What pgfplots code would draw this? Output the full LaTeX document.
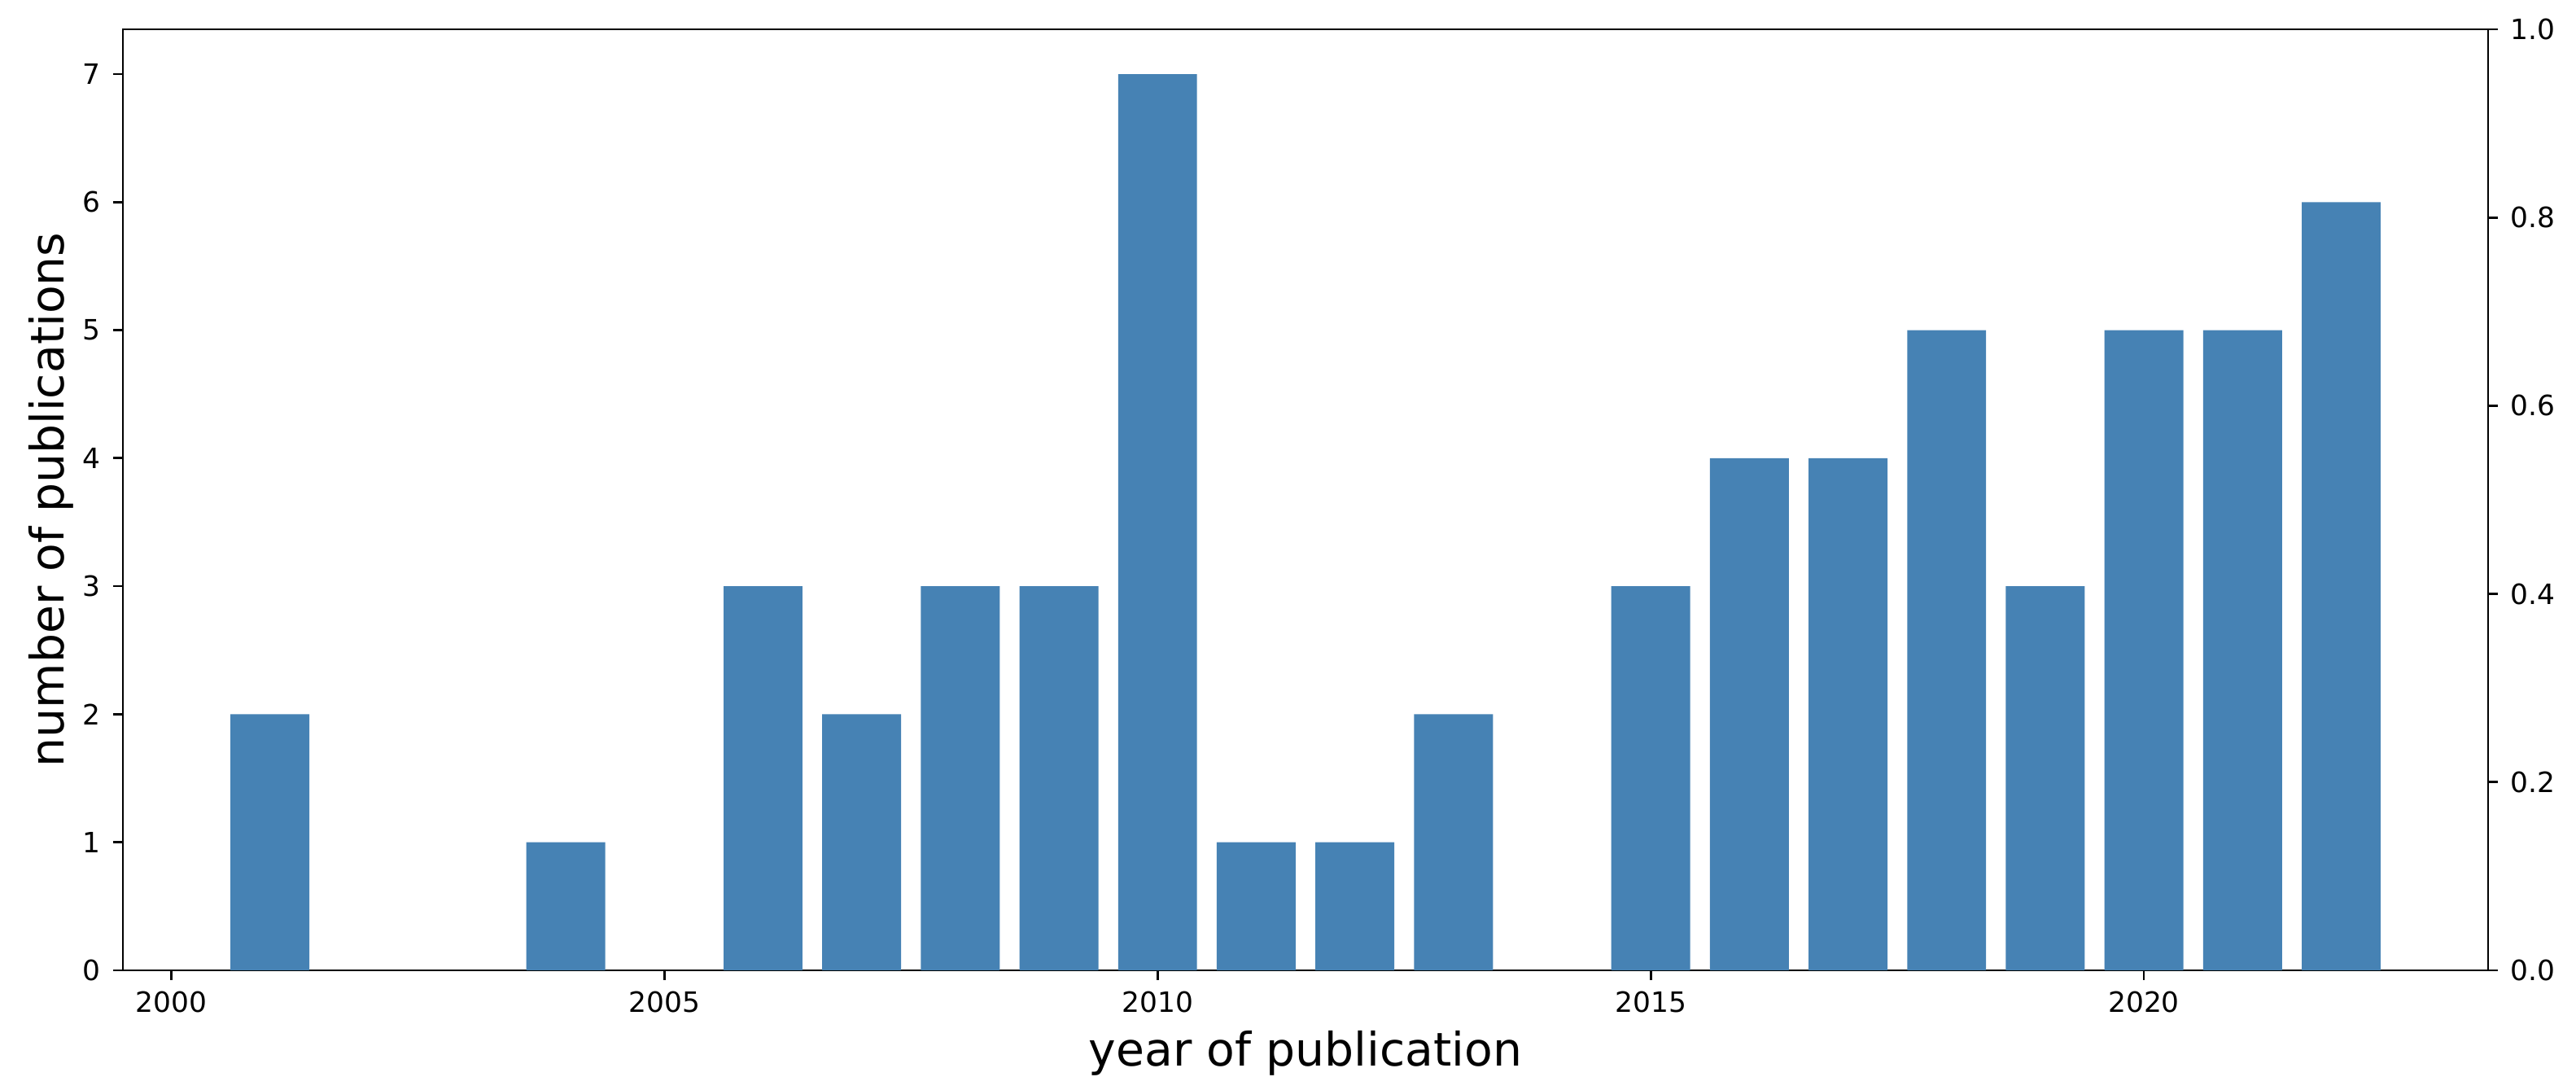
\documentclass[border=0pt]{standalone}
\usepackage{pgfplots}
\pgfplotsset{compat=1.18}
\usepackage{fontspec}
\setmainfont{DejaVu Sans}
\definecolor{steelblue}{RGB}{70,130,180}
\begin{document}
\begin{tikzpicture}
\pgfplotsset{
  every axis/.append style={
    scale only axis,
    width=726.5pt, height=289pt,
    line width=0.68pt,
    tick align=outside,
    major tick length=3pt,
    tick style={line width=0.68pt, black},
    /pgf/number format/assume math mode=true,
    tick label style={font=\fontsize{8.6}{10}\selectfont, inner sep=0pt},
  }
}
\begin{axis}[
  name=main,
  xmin=1999.51, xmax=2023.49,
  ymin=0, ymax=7.35,
  xtick={2000,2005,2010,2015,2020},
  ytick={0,1,2,3,4,5,6,7},
  xtick pos=lower, ytick pos=left,
  x tick label style={/pgf/number format/1000 sep={}, yshift=-3.25pt},
  y tick label style={xshift=-3.5pt},
  xlabel={year of publication},
  ylabel={number of publications},
  label style={font=\fontsize{14.2}{16}\selectfont, inner sep=0pt},
  xlabel style={at={(axis description cs:0.5,0)}, anchor=north, yshift=-18.25pt},
  ylabel style={at={(axis description cs:0,0.5)}, rotate=0, anchor=south, yshift=14.75pt},
  ybar, bar width=0.8,
]
\addplot[fill=steelblue, draw=none] coordinates {
(2001,2) (2004,1) (2006,3) (2007,2) (2008,3) (2009,3) (2010,7) (2011,1)
(2012,1) (2013,2) (2015,3) (2016,4) (2017,4) (2018,5) (2019,3) (2020,5)
(2021,5) (2022,6)
};
\end{axis}
\begin{axis}[
  xmin=1999.51, xmax=2023.49,
  ymin=0, ymax=1,
  hide x axis,
  axis y line*=right,
  ytick={0,0.2,0.4,0.6,0.8,1.0},
  /pgf/number format/fixed,
  /pgf/number format/fixed zerofill,
  /pgf/number format/precision=1,
  y tick label style={xshift=3.5pt},
]
\end{axis}
\pgfresetboundingbox
\path[use as bounding box] ([xshift=-37.75pt,yshift=-36.75pt]main.south west) rectangle ([xshift=27pt,yshift=9pt]main.north east);
\end{tikzpicture}
\end{document}
